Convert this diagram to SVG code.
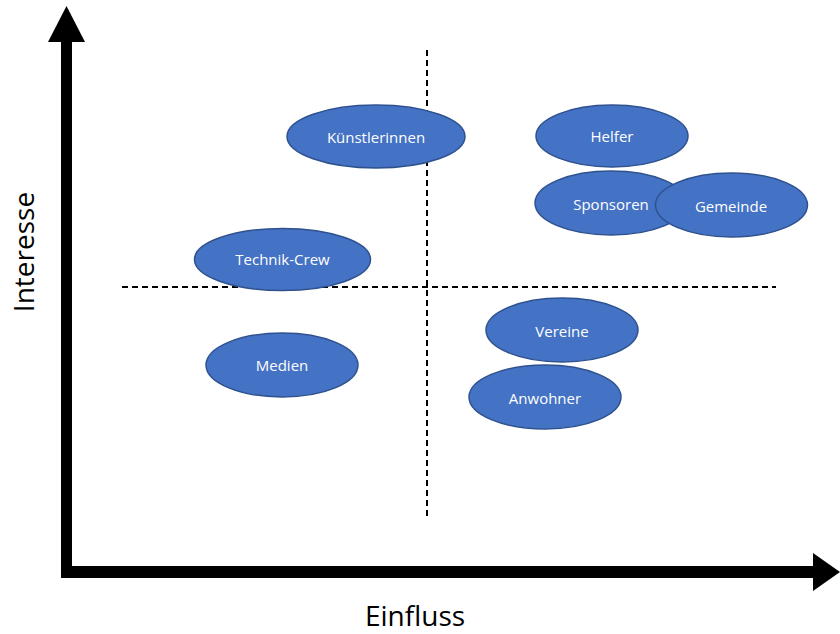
<svg xmlns="http://www.w3.org/2000/svg" width="840" height="634" viewBox="0 0 840 634">
<style>
.n ellipse{fill:#4472C4;stroke:#2F528F;stroke-width:1.5}
.n text{fill:#fff;font-family:"Open Sans","Liberation Sans",sans-serif;font-size:15px;font-weight:500;text-anchor:middle;dominant-baseline:central}
.ax{fill:#000;font-family:"Open Sans","Liberation Sans",sans-serif;font-size:28px;text-anchor:middle}
.d{stroke:#000;stroke-width:2;stroke-dasharray:6 4;fill:none}
</style>
<rect width="840" height="634" fill="#fff"/>
<g id="connectors">
<line class="d" x1="427" y1="50" x2="427" y2="516"/>
<line class="d" x1="122" y1="287" x2="776" y2="287"/>
<rect x="61" y="40" width="11" height="538" fill="#000"/>
<polygon points="66.5,6 48,42 85,42" fill="#000"/>
<rect x="61" y="566" width="753" height="12" fill="#000"/>
<polygon points="840,572 813,553 813,591" fill="#000"/>
</g>
<g id="kuenstlerinnen" class="n"><ellipse cx="376" cy="136.5" rx="89" ry="31.5"/><text x="376" y="137">Künstlerinnen</text></g>
<g id="helfer" class="n"><ellipse cx="612" cy="136" rx="76" ry="31"/><text x="612" y="136">Helfer</text></g>
<g id="sponsoren" class="n"><ellipse cx="611" cy="203" rx="76" ry="32"/><text x="611" y="204">Sponsoren</text></g>
<g id="gemeinde" class="n"><ellipse cx="731.5" cy="205" rx="76" ry="32"/><text x="731" y="206">Gemeinde</text></g>
<g id="technik-crew" class="n"><ellipse cx="282.5" cy="259.5" rx="88" ry="31"/><text x="282.5" y="259">Technik-Crew</text></g>
<g id="medien" class="n"><ellipse cx="282" cy="365" rx="76" ry="32"/><text x="282" y="365">Medien</text></g>
<g id="vereine" class="n"><ellipse cx="562" cy="330" rx="76" ry="32"/><text x="562" y="331">Vereine</text></g>
<g id="anwohner" class="n"><ellipse cx="545" cy="397" rx="76" ry="32"/><text x="545" y="398">Anwohner</text></g>
<text class="ax" x="415" y="626">Einfluss</text>
<text class="ax" transform="translate(34,252) rotate(-90)">Interesse</text>
</svg>
